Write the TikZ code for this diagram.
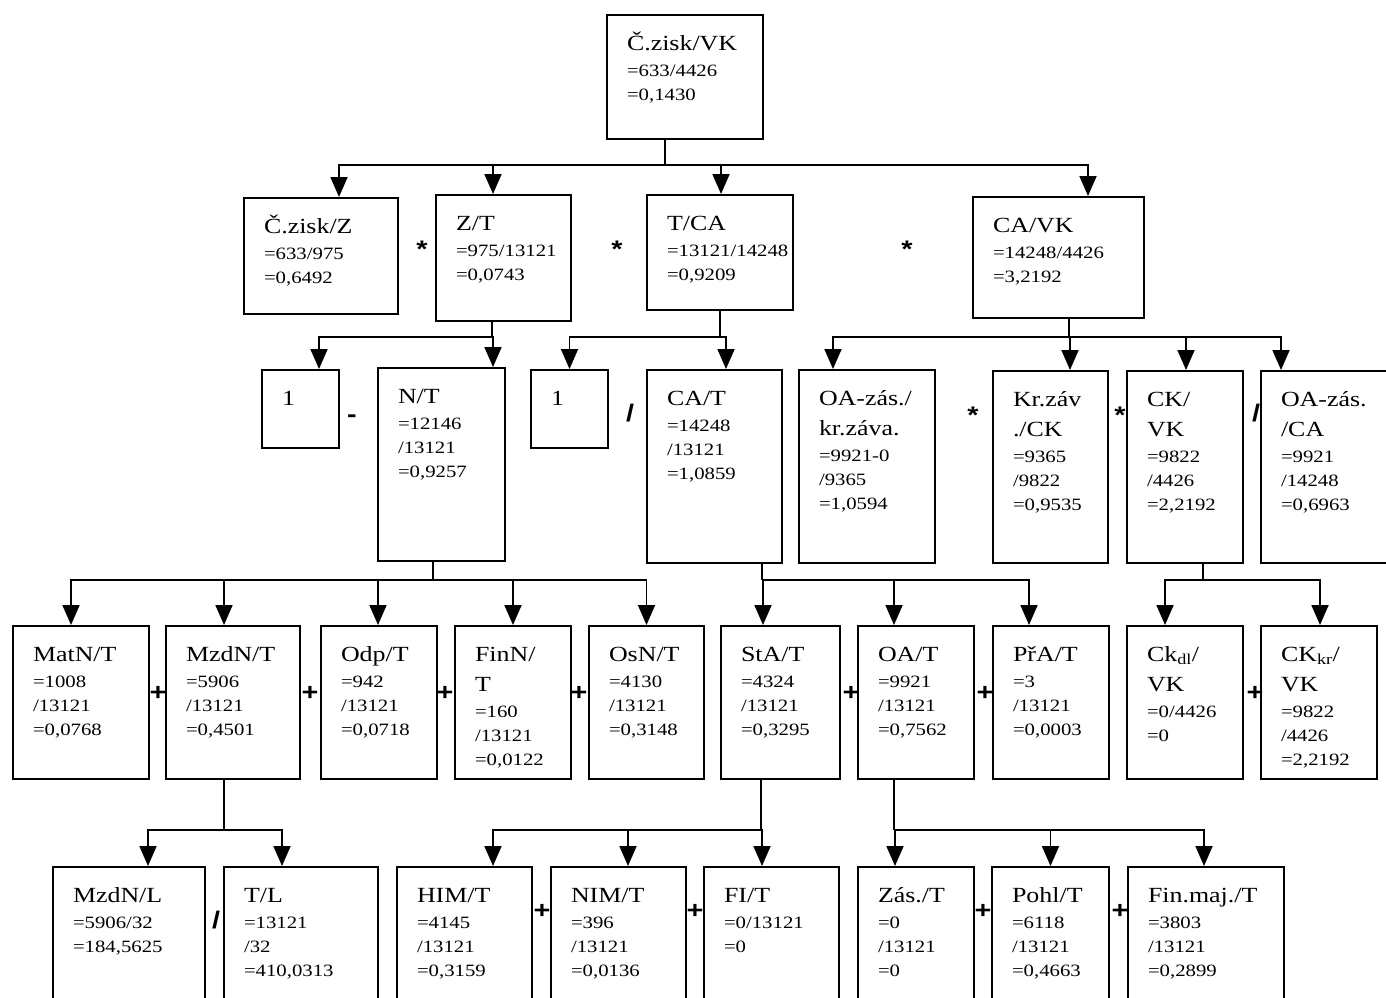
\documentclass[tikz,border=0pt]{standalone}
\usepackage{fontspec}
\setmainfont{Liberation Serif}[FakeStretch=1.2]
\newfontfamily\opfont{Liberation Sans}[FakeStretch=1.2]
\usepackage{tikz}
\usetikzlibrary{arrows.meta}

\newcommand{\titlefont}{\fontsize{21.6}{30}\selectfont}
\newcommand{\valfont}{\fontsize{17.3}{24}\selectfont}
% box text: width, height, ratio name, its values
\newcommand{\ratiotext}[4]{\parbox[t][#2][t]{#1}{\vspace*{15pt}\leftskip=20pt\rightskip=0pt plus 1fil
  {\titlefont\rule{0pt}{20pt}#3\par}\vspace{2pt}{\valfont #4\par}}}

\begin{document}
\begin{tikzpicture}[
    x=1pt, y=-1pt,
    >={Triangle[length=20pt,width=17pt]},
    indicator/.style={draw, line width=2pt, inner sep=0pt, anchor=north west},
    conn/.style={line width=1.8pt},
    arr/.style={conn, ->},
    op/.style={font=\opfont\bfseries\fontsize{24}{24}\selectfont, inner sep=0pt, anchor=base}
]
    \useasboundingbox (0,0) rectangle (1386,997);

    % Top ratio
    \node[indicator] (top) at (606,14) {\ratiotext{156pt}{124pt}{Č.zisk/VK}{=633/4426\\=0,1430}};

    % Second level
    \node[indicator] (czz) at (243,197) {\ratiotext{154pt}{116pt}{Č.zisk/Z}{=633/975\\=0,6492}};
    \node[indicator] (zt) at (435,194) {\ratiotext{135pt}{126pt}{Z/T}{=975/13121\\=0,0743}};
    \node[indicator] (tca) at (646,194) {\ratiotext{146pt}{115pt}{T/CA}{=13121/14248\\=0,9209}};
    \node[indicator] (cavk) at (972,196) {\ratiotext{171pt}{121pt}{CA/VK}{=14248/4426\\=3,2192}};
    \node[op] (o1) at (422,257) {*};
    \node[op] (o2) at (617,257) {*};
    \node[op] (o3) at (907,257) {*};

    % Third level
    \node[indicator] (one1) at (261,369) {\ratiotext{77pt}{78pt}{1}{}};
    \node[indicator] (nt) at (377,367) {\ratiotext{127pt}{193pt}{N/T}{=12146\\/13121\\=0,9257}};
    \node[indicator] (one2) at (530,369) {\ratiotext{77pt}{78pt}{1}{}};
    \node[indicator] (cat) at (646,369) {\ratiotext{135pt}{193pt}{CA/T}{=14248\\/13121\\=1,0859}};
    \node[indicator] (oakr) at (798,369) {\ratiotext{136pt}{193pt}{OA-zás./\\kr.záva.}{=9921-0\\/9365\\=1,0594}};
    \node[indicator] (krzav) at (992,370) {\ratiotext{115pt}{192pt}{Kr.záv\\./CK}{=9365\\/9822\\=0,9535}};
    \node[indicator] (ckvk) at (1126,370) {\ratiotext{116pt}{192pt}{CK/\\VK}{=9822\\/4426\\=2,2192}};
    \node[indicator] (oaca) at (1260,370) {\ratiotext{140pt}{192pt}{OA-zás.\\/CA}{=9921\\/14248\\=0,6963}};
    \node[op] (o4) at (352,422) {-};
    \node[op] (o5) at (630,421) {/};
    \node[op] (o6) at (973,423) {*};
    \node[op] (o7) at (1120,423) {*};
    \node[op] (o8) at (1256,421) {/};

    % Fourth level
    \node[indicator] (matn) at (12,625) {\ratiotext{136pt}{153pt}{MatN/T}{=1008\\/13121\\=0,0768}};
    \node[indicator] (mzdn) at (165,625) {\ratiotext{134pt}{153pt}{MzdN/T}{=5906\\/13121\\=0,4501}};
    \node[indicator] (odp) at (320,625) {\ratiotext{116pt}{153pt}{Odp/T}{=942\\/13121\\=0,0718}};
    \node[indicator] (finn) at (454,625) {\ratiotext{116pt}{153pt}{FinN/\\T}{=160\\/13121\\=0,0122}};
    \node[indicator] (osn) at (588,625) {\ratiotext{115pt}{153pt}{OsN/T}{=4130\\/13121\\=0,3148}};
    \node[indicator] (sta) at (720,625) {\ratiotext{119pt}{153pt}{StA/T}{=4324\\/13121\\=0,3295}};
    \node[indicator] (oa) at (857,625) {\ratiotext{116pt}{153pt}{OA/T}{=9921\\/13121\\=0,7562}};
    \node[indicator] (pra) at (992,625) {\ratiotext{116pt}{153pt}{PřA/T}{=3\\/13121\\=0,0003}};
    \node[indicator] (ckdl) at (1126,625) {\ratiotext{116pt}{153pt}{Ck\textsubscript{dl}/\\VK}{=0/4426\\=0}};
    \node[indicator] (ckkr) at (1260,625) {\ratiotext{116pt}{153pt}{CK\textsubscript{kr}/\\VK}{=9822\\/4426\\=2,2192}};
    \node[op] (o9) at (158,700) {+};
    \node[op] (o10) at (310,700) {+};
    \node[op] (o11) at (445,700) {+};
    \node[op] (o12) at (579,700) {+};
    \node[op] (o13) at (851,700) {+};
    \node[op] (o14) at (985,700) {+};
    \node[op] (o15) at (1255,700) {+};

    % Fifth level
    \node[indicator] (mzdnl) at (52,866) {\ratiotext{152pt}{160pt}{MzdN/L}{=5906/32\\=184,5625}};
    \node[indicator] (tl) at (223,866) {\ratiotext{154pt}{160pt}{T/L}{=13121\\/32\\=410,0313}};
    \node[indicator] (him) at (396,866) {\ratiotext{135pt}{160pt}{HIM/T}{=4145\\/13121\\=0,3159}};
    \node[indicator] (nim) at (550,866) {\ratiotext{135pt}{160pt}{NIM/T}{=396\\/13121\\=0,0136}};
    \node[indicator] (fi) at (703,866) {\ratiotext{135pt}{160pt}{FI/T}{=0/13121\\=0}};
    \node[indicator] (zas) at (857,866) {\ratiotext{116pt}{160pt}{Zás./T}{=0\\/13121\\=0}};
    \node[indicator] (pohl) at (991,866) {\ratiotext{117pt}{160pt}{Pohl/T}{=6118\\/13121\\=0,4663}};
    \node[indicator] (finmaj) at (1127,866) {\ratiotext{156pt}{160pt}{Fin.maj./T}{=3803\\/13121\\=0,2899}};
    \node[op] (o16) at (216,928) {/};
    \node[op] (o17) at (542,918) {+};
    \node[op] (o18) at (695,918) {+};
    \node[op] (o19) at (983,918) {+};
    \node[op] (o20) at (1120,918) {+};

    % Connections
    \coordinate (j1) at (665,165);
    \draw[conn] (top.south -| j1) -- (j1);
    \draw[arr] (j1) -| ([xshift=18pt]czz.north);
    \draw[arr] (j1) -| ([xshift=-10.5pt]zt.north);
    \draw[arr] (j1) -| ([xshift=1pt]tca.north);
    \draw[arr] (j1) -| ([xshift=29.5pt]cavk.north);

    \coordinate (j2) at (492,337);
    \draw[conn] (zt.south -| j2) -- (j2);
    \draw[arr] (j2) -| ([xshift=18.5pt]one1.north);
    \draw[arr] (j2) -| ([xshift=51.5pt]nt.north);

    \coordinate (j3) at (720,337);
    \draw[conn] (tca.south -| j3) -- (j3);
    \draw[arr] (j3) -| (one2.north);
    \draw[arr] (j3) -| ([xshift=11.5pt]cat.north);

    \coordinate (j4) at (1069,337);
    \draw[conn] (cavk.south -| j4) -- (j4);
    \draw[arr] (j4) -| ([xshift=-34pt]oakr.north);
    \draw[arr] (j4) -| ([xshift=19.5pt]krzav.north);
    \draw[arr] (j4) -| ([xshift=1pt]ckvk.north);
    \draw[arr] (j4) -| ([xshift=-50pt]oaca.north);

    \coordinate (j5) at (433,580);
    \draw[conn] (nt.south -| j5) -- (j5);
    \draw[arr] (j5) -| ([xshift=-10pt]matn.north);
    \draw[arr] (j5) -| ([xshift=-9pt]mzdn.north);
    \draw[arr] (j5) -| ([xshift=-1pt]odp.north);
    \draw[arr] (j5) -| (finn.north);
    \draw[arr] (j5) -| (osn.north);

    \coordinate (j6) at (762,580);
    \draw[conn] (cat.south -| j6) -- (j6);
    \draw[arr] (j6) -| ([xshift=-17.5pt]sta.north);
    \draw[arr] (j6) -| ([xshift=-22pt]oa.north);
    \draw[arr] (j6) -| ([xshift=-22pt]pra.north);

    \coordinate (j7) at (1203,580);
    \draw[conn] (ckvk.south -| j7) -- (j7);
    \draw[arr] (j7) -| ([xshift=-20pt]ckdl.north);
    \draw[arr] (j7) -| ([xshift=1pt]ckkr.north);

    \coordinate (j8) at (224,830);
    \draw[conn] (mzdn.south -| j8) -- (j8);
    \draw[arr] (j8) -| ([xshift=19pt]mzdnl.north);
    \draw[arr] (j8) -| ([xshift=-19pt]tl.north);

    \coordinate (j9) at (761,830);
    \draw[conn] (sta.south -| j9) -- (j9);
    \draw[arr] (j9) -| ([xshift=28.5pt]him.north);
    \draw[arr] (j9) -| ([xshift=9.5pt]nim.north);
    \draw[arr] (j9) -| ([xshift=-9.5pt]fi.north);

    \coordinate (j10) at (894,830);
    \draw[conn] (oa.south -| j10) -- (j10);
    \draw[arr] (j10) -| ([xshift=-21pt]zas.north);
    \draw[arr] (j10) -| (pohl.north);
    \draw[arr] (j10) -| ([xshift=-2pt]finmaj.north);

\end{tikzpicture}
\end{document}
